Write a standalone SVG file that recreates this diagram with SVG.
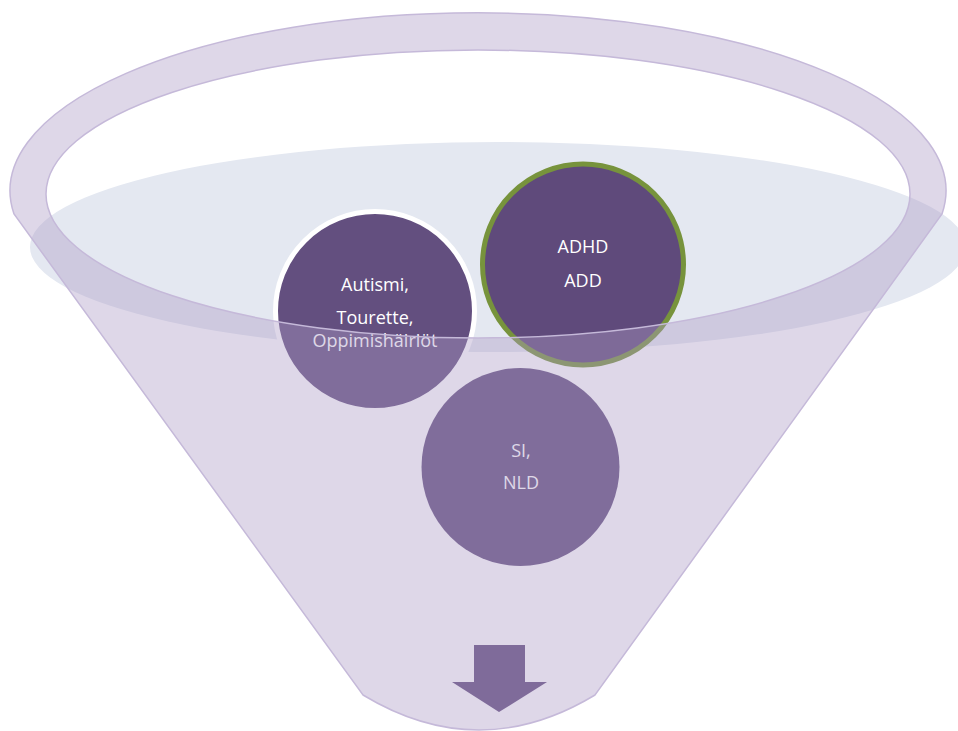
<svg xmlns="http://www.w3.org/2000/svg" width="958" height="731" viewBox="0 0 958 731">
  <style>
    .lbl { font-family: "Open Sans", "Noto Sans", "DejaVu Sans", sans-serif; font-size: 18px; fill: #ffffff; text-anchor: middle; }
    .disc { fill: #634f7f; }
  </style>
  <rect x="0" y="0" width="958" height="731" fill="#ffffff"/>
  <g id="surface">
    <ellipse cx="498" cy="247" rx="468" ry="105" fill="#e4e8f1"/>
  </g>
  <g id="node-autismi">
    <circle cx="375" cy="311" r="99.5" class="disc" stroke="#ffffff" stroke-width="5"/>
    <text class="lbl" x="375" y="291">Autismi,</text>
    <text class="lbl" x="375" y="324">Tourette,</text>
    <text class="lbl" x="375" y="347">Oppimishäiriöt</text>
  </g>
  <g id="node-adhd">
    <circle cx="583" cy="264.5" r="100.5" fill="#5f4a7b" stroke="#77933c" stroke-width="5"/>
    <text class="lbl" x="583" y="253">ADHD</text>
    <text class="lbl" x="583" y="287">ADD</text>
  </g>
  <g id="node-si">
    <circle cx="520.5" cy="467" r="99" class="disc"/>
    <text class="lbl" x="521" y="457">SI,</text>
    <text class="lbl" x="521" y="489">NLD</text>
  </g>
  <g id="funnel">
    <path fill="#ad9bc5" fill-opacity="0.4" fill-rule="evenodd" stroke="#c5b9d9" stroke-width="1.5"
      d="M14,214 A468,178 0 1 1 942,214 L595,695 Q479,765 363,695 Z
         M46,194 A432,144 0 1 0 910,194 A432,144 0 1 0 46,194 Z"/>
  </g>
  <g id="connectors">
    <path d="M474,645 L525,645 L525,682 L547,682 L499,712 L452,682 L474,682 Z" fill="#7f6b9a"/>
  </g>
</svg>
